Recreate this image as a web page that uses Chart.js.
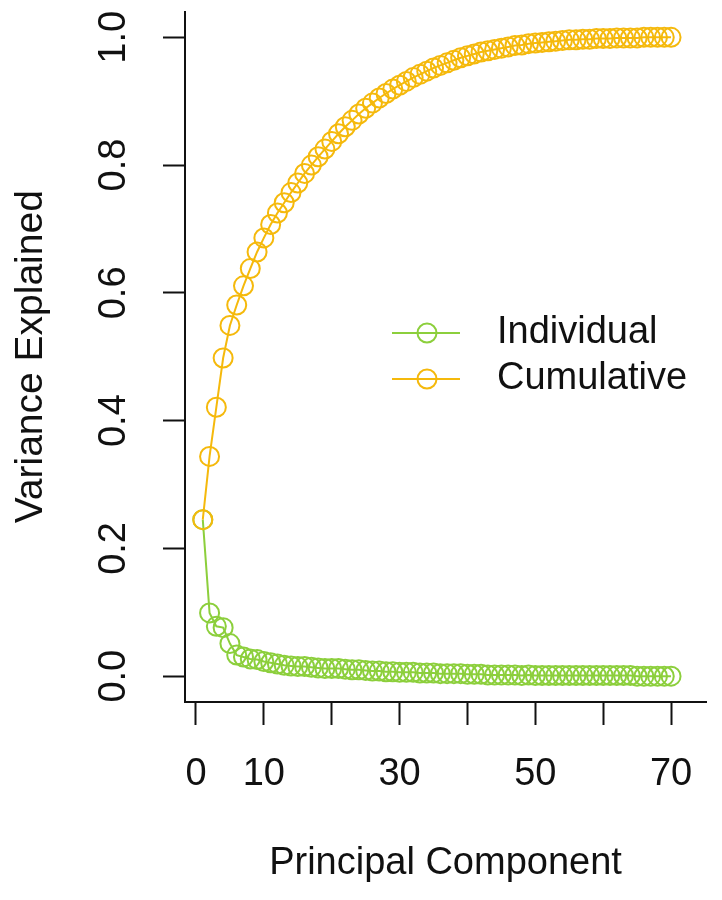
<!DOCTYPE html>
<html>
<head>
<meta charset="utf-8">
<title>Variance Explained</title>
<script src="https://cdn.jsdelivr.net/npm/chart.js@4.4.0/dist/chart.umd.min.js"></script>
<style>
  html, body { margin: 0; padding: 0; background: #fff; }
  #wrap { width: 722px; height: 900px; }
</style>
</head>
<body>
<div id="wrap"><canvas id="pca-chart" width="722" height="900"></canvas></div>
<script>
// dados
const components = [
  1, 2, 3, 4, 5, 6, 7, 8, 9, 10, 11, 12, 13, 14, 15, 16, 17, 18, 19, 20,
  21, 22, 23, 24, 25, 26, 27, 28, 29, 30, 31, 32, 33, 34, 35, 36, 37, 38, 39, 40,
  41, 42, 43, 44, 45, 46, 47, 48, 49, 50, 51, 52, 53, 54, 55, 56, 57, 58, 59, 60,
  61, 62, 63, 64, 65, 66, 67, 68, 69, 70
];
const individual = [
  0.245, 0.099, 0.078, 0.076, 0.051, 0.033, 0.030, 0.027, 0.026, 0.023,
  0.021, 0.019, 0.017, 0.016, 0.015, 0.015, 0.014, 0.013, 0.012, 0.012,
  0.012, 0.011, 0.010, 0.010, 0.009, 0.008, 0.008, 0.007, 0.007, 0.006,
  0.006, 0.006, 0.005, 0.005, 0.005, 0.004, 0.004, 0.004, 0.004, 0.003,
  0.003, 0.003, 0.002, 0.002, 0.002, 0.002, 0.002, 0.001, 0.002, 0.001,
  0.001, 0.001, 0.001, 0.001, 0.001, 0.001, 0.001, 0.001, 0.001, 0.001,
  0.001, 0.001, 0.001, 0.001, 0.000, 0.000, 0.000, 0.000, 0.000, 0.000
];
const cumulative = [
  0.245, 0.344, 0.421, 0.498, 0.549, 0.581, 0.611, 0.638, 0.664, 0.686,
  0.707, 0.725, 0.741, 0.757, 0.772, 0.787, 0.800, 0.813, 0.825, 0.837,
  0.849, 0.860, 0.870, 0.880, 0.889, 0.897, 0.905, 0.912, 0.919, 0.925,
  0.931, 0.937, 0.942, 0.947, 0.952, 0.956, 0.960, 0.964, 0.968, 0.971,
  0.974, 0.977, 0.979, 0.981, 0.983, 0.985, 0.987, 0.988, 0.990, 0.991,
  0.992, 0.993, 0.994, 0.995, 0.996, 0.996, 0.997, 0.997, 0.998, 0.998,
  0.998, 0.999, 0.999, 0.999, 0.999, 1.000, 1.000, 1.000, 1.000, 1.000
];
const seriesNames = ['Individual', 'Cumulative'];
const xTickValues = [0, 10, 20, 30, 40, 50, 60, 70];
const xTickLabels = ['0', '10', '', '30', '', '50', '', '70'];
const yTickValues = [0, 0.2, 0.4, 0.6, 0.8, 1.0];
const yTickLabels = ['0.0', '0.2', '0.4', '0.6', '0.8', '1.0'];

const GREEN = '#8ccf3c';
const GOLD = '#f5b90c';
const FONT = "'Liberation Sans', Arial, Helvetica, sans-serif";
const TEXT_COLOR = '#111';
const FONT_SIZE = 38;

function toPoints(ys) {
  return components.map((c, i) => ({ x: c, y: ys[i] }));
}

// legenda no estilo do R, desenhada dentro da área do gráfico
const rLegend = {
  id: 'rLegend',
  afterDatasetsDraw(chart) {
    const ctx = chart.ctx;
    const colors = [GREEN, GOLD];
    const x0 = 392, x1 = 460, cx = 427;
    const rowY = [333, 379];
    ctx.save();
    seriesNames.forEach((name, i) => {
      ctx.strokeStyle = colors[i];
      ctx.lineWidth = 2;
      ctx.beginPath();
      ctx.moveTo(x0, rowY[i]);
      ctx.lineTo(x1, rowY[i]);
      ctx.stroke();
      ctx.beginPath();
      ctx.arc(cx, rowY[i], 9.5, 0, Math.PI * 2);
      ctx.stroke();
      ctx.fillStyle = TEXT_COLOR;
      ctx.font = FONT_SIZE + 'px ' + FONT;
      ctx.textAlign = 'left';
      ctx.textBaseline = 'middle';
      ctx.fillText(name, 497, rowY[i]);
    });
    ctx.restore();
  }
};

const ctx = document.getElementById('pca-chart').getContext('2d');

new Chart(ctx, {
  type: 'line',
  data: {
    datasets: [
      {
        label: seriesNames[0],
        data: toPoints(individual),
        borderColor: GREEN,
        backgroundColor: 'rgba(0,0,0,0)',
        borderWidth: 2,
        pointRadius: 9.5,
        pointBorderWidth: 2,
        pointBorderColor: GREEN,
        pointBackgroundColor: 'rgba(0,0,0,0)',
        tension: 0,
        order: 2
      },
      {
        label: seriesNames[1],
        data: toPoints(cumulative),
        borderColor: GOLD,
        backgroundColor: 'rgba(0,0,0,0)',
        borderWidth: 2,
        pointRadius: 9.5,
        pointBorderWidth: 2,
        pointBorderColor: GOLD,
        pointBackgroundColor: 'rgba(0,0,0,0)',
        tension: 0,
        order: 1
      }
    ]
  },
  options: {
    responsive: false,
    animation: false,
    clip: false,
    layout: { padding: { top: 7, right: 16, left: 0, bottom: 0 } },
    plugins: {
      legend: { display: false },
      tooltip: { enabled: false }
    },
    scales: {
      x: {
        type: 'linear',
        min: -1.62,
        max: 75.15,
        afterBuildTicks: scale => {
          scale.ticks = xTickValues.map(v => ({ value: v }));
        },
        afterFit: scale => {
          scale.height = 198;
          scale.paddingLeft = 0;
          scale.paddingRight = 0;
        },
        border: { display: true, color: '#111', width: 2 },
        grid: { drawOnChartArea: false, drawTicks: true, tickLength: 23, tickWidth: 2, tickColor: '#111' },
        ticks: {
          autoSkip: false,
          maxRotation: 0,
          padding: 27,
          color: TEXT_COLOR,
          font: { family: FONT, size: FONT_SIZE },
          callback: (value, index) => xTickLabels[index]
        },
        title: {
          display: true,
          text: 'Principal Component',
          color: TEXT_COLOR,
          font: { family: FONT, size: FONT_SIZE },
          padding: { top: 0, bottom: 14 }
        }
      },
      y: {
        type: 'linear',
        min: -0.0404,
        max: 1.0404,
        afterBuildTicks: scale => {
          scale.ticks = yTickValues.map(v => ({ value: v }));
        },
        afterFit: scale => {
          scale.width = 185;
          scale.paddingTop = 0;
          scale.paddingBottom = 0;
        },
        border: { display: true, color: '#111', width: 2 },
        grid: { drawOnChartArea: false, drawTicks: true, tickLength: 22, tickWidth: 2, tickColor: '#111' },
        ticks: {
          minRotation: 90,
          maxRotation: 90,
          crossAlign: 'center',
          padding: 22,
          color: TEXT_COLOR,
          font: { family: FONT, size: FONT_SIZE },
          callback: (value, index) => yTickLabels[index]
        },
        title: {
          display: true,
          text: 'Variance Explained',
          color: TEXT_COLOR,
          font: { family: FONT, size: 39 },
          padding: { top: 8, bottom: 0 }
        }
      }
    }
  },
  plugins: [rLegend]
});
</script>
</body>
</html>
